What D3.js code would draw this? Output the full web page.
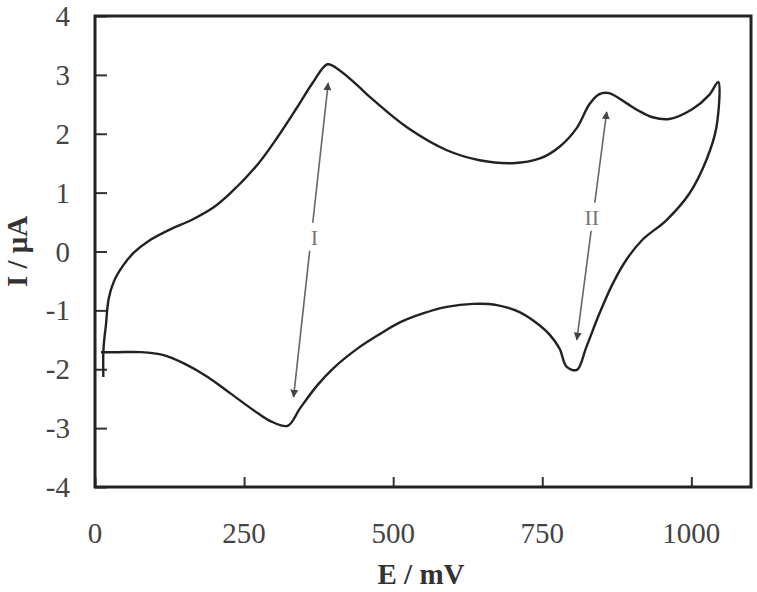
<!DOCTYPE html>
<html>
<head>
<meta charset="utf-8">
<script src="https://cdn.jsdelivr.net/npm/d3@7"></script>
<style>
  body { margin: 0; background: #fff; }
  svg { display: block; }
</style>
</head>
<body>
<script>
// Forward (anodic) scan: potential in mV, current in µA
const forwardE = [14, 14, 16, 18, 23, 32, 47, 65, 90, 127, 161, 199, 227, 272, 306, 339, 366, 390, 411, 440, 466, 523, 590, 645, 701, 746, 779, 808, 829, 845, 862, 891, 910, 935, 963, 1002, 1030, 1045];
const forwardI = [-2.13, -1.70, -1.45, -1.28, -0.80, -0.50, -0.24, -0.02, 0.18, 0.38, 0.53, 0.75, 0.99, 1.47, 1.94, 2.45, 2.88, 3.18, 3.07, 2.82, 2.58, 2.11, 1.72, 1.55, 1.50, 1.58, 1.78, 2.10, 2.50, 2.67, 2.69, 2.52, 2.40, 2.28, 2.25, 2.42, 2.66, 2.88];

// Reverse (cathodic) scan
const reverseE = [1042, 1025, 997, 958, 918, 891, 868, 846, 824, 808, 791, 779, 763, 741, 712, 674, 634, 590, 550, 512, 478, 440, 400, 373, 344, 323, 294, 272, 227, 189, 149, 115, 77, 38, 10];
const reverseI = [2.11, 1.55, 0.99, 0.53, 0.20, -0.14, -0.55, -1.05, -1.62, -2.01, -1.96, -1.65, -1.42, -1.22, -1.03, -0.91, -0.89, -0.94, -1.05, -1.20, -1.40, -1.65, -1.98, -2.27, -2.66, -2.96, -2.88, -2.74, -2.41, -2.13, -1.90, -1.76, -1.71, -1.71, -1.71];

// Tick values
const xTicks = [0, 250, 500, 750, 1000];
const yTicks = [-4, -3, -2, -1, 0, 1, 2, 3, 4];

// Peak couple annotations
const peakLabels = ["I", "II"];
const arrowTopE = [391, 858];
const arrowTopI = [2.86, 2.37];
const arrowBotE = [333, 808];
const arrowBotI = [-2.47, -1.50];
const labelE = [368, 833];
const labelI = [0.25, 0.59];

const W = 757, H = 592;
const margin = { top: 16, right: 6, bottom: 105, left: 95 };

const svg = d3.select("body").append("svg")
    .attr("width", W)
    .attr("height", H);

const x = d3.scaleLinear().domain([0, 1100]).range([margin.left, W - margin.right]);
const y = d3.scaleLinear().domain([-4, 4]).range([H - margin.bottom, margin.top]);

const font = "'Liberation Serif', 'Times New Roman', serif";

// ticks pointing inward
svg.append("g")
    .attr("transform", `translate(0,${y(-4)})`)
    .call(d3.axisTop(x).tickValues(xTicks).tickSize(10).tickFormat(""))
    .call(g => g.select(".domain").remove())
    .selectAll("line").attr("stroke", "#333").attr("stroke-width", 2);

svg.append("g")
    .attr("transform", `translate(${x(0)},0)`)
    .call(d3.axisRight(y).tickValues(yTicks).tickSize(12).tickFormat(""))
    .call(g => g.select(".domain").remove())
    .selectAll("line").attr("stroke", "#333").attr("stroke-width", 2);

// tick labels
svg.append("g").selectAll("text")
    .data(xTicks)
    .join("text")
    .attr("x", d => x(d))
    .attr("y", y(-4) + 56)
    .attr("text-anchor", "middle")
    .attr("font-family", font)
    .attr("font-size", 29)
    .attr("fill", "#444")
    .text(d => d);

svg.append("g").selectAll("text")
    .data(yTicks)
    .join("text")
    .attr("x", 70)
    .attr("y", d => y(d) + 10)
    .attr("text-anchor", "end")
    .attr("font-family", font)
    .attr("font-size", 29)
    .attr("fill", "#444")
    .text(d => d);

// frame
svg.append("rect")
    .attr("x", x(0))
    .attr("y", y(4))
    .attr("width", x(1100) - x(0))
    .attr("height", y(-4) - y(4))
    .attr("fill", "none")
    .attr("stroke", "#222")
    .attr("stroke-width", 3);

// axis titles
svg.append("text")
    .attr("x", 421)
    .attr("y", 584)
    .attr("text-anchor", "middle")
    .attr("font-family", font)
    .attr("font-weight", "bold")
    .attr("font-size", 29)
    .attr("fill", "#333")
    .text("E / mV");

svg.append("text")
    .attr("transform", `translate(27,${y(0)}) rotate(-90)`)
    .attr("text-anchor", "middle")
    .attr("font-family", font)
    .attr("font-weight", "bold")
    .attr("font-size", 29)
    .attr("fill", "#333")
    .text("I / μA");

// voltammogram
const points = forwardE.map((e, i) => [e, forwardI[i]])
    .concat(reverseE.map((e, i) => [e, reverseI[i]]));

const line = d3.line()
    .x(d => x(d[0]))
    .y(d => y(d[1]))
    .curve(d3.curveCatmullRom.alpha(0.5));

svg.append("path")
    .datum(points)
    .attr("fill", "none")
    .attr("stroke", "#222")
    .attr("stroke-width", 2.4)
    .attr("d", line);

// arrows between peak couples
const defs = svg.append("defs");
defs.append("marker")
    .attr("id", "head")
    .attr("viewBox", "0 0 10 10")
    .attr("refX", 9)
    .attr("refY", 5)
    .attr("markerWidth", 5)
    .attr("markerHeight", 5)
    .attr("orient", "auto-start-reverse")
    .append("path")
    .attr("d", "M0,0L10,5L0,10Z")
    .attr("fill", "#444");

peakLabels.forEach((lab, i) => {
    const x1 = x(arrowTopE[i]), y1 = y(arrowTopI[i]);
    const x2 = x(arrowBotE[i]), y2 = y(arrowBotI[i]);
    const lx = x(labelE[i]), ly = y(labelI[i]);
    const gap = 14;
    const t1 = (ly - gap - y1) / (y2 - y1);
    const t2 = (ly + gap - y1) / (y2 - y1);
    svg.append("line")
        .attr("x1", x1 + (x2 - x1) * t1).attr("y1", ly - gap)
        .attr("x2", x1).attr("y2", y1)
        .attr("stroke", "#666").attr("stroke-width", 1.6)
        .attr("marker-end", "url(#head)");
    svg.append("line")
        .attr("x1", x1 + (x2 - x1) * t2).attr("y1", ly + gap)
        .attr("x2", x2).attr("y2", y2)
        .attr("stroke", "#666").attr("stroke-width", 1.6)
        .attr("marker-end", "url(#head)");
    svg.append("text")
        .attr("x", lx)
        .attr("y", ly + 8)
        .attr("text-anchor", "middle")
        .attr("font-family", font)
        .attr("font-size", 22)
        .attr("fill", "#777")
        .text(lab);
});
</script>
</body>
</html>
